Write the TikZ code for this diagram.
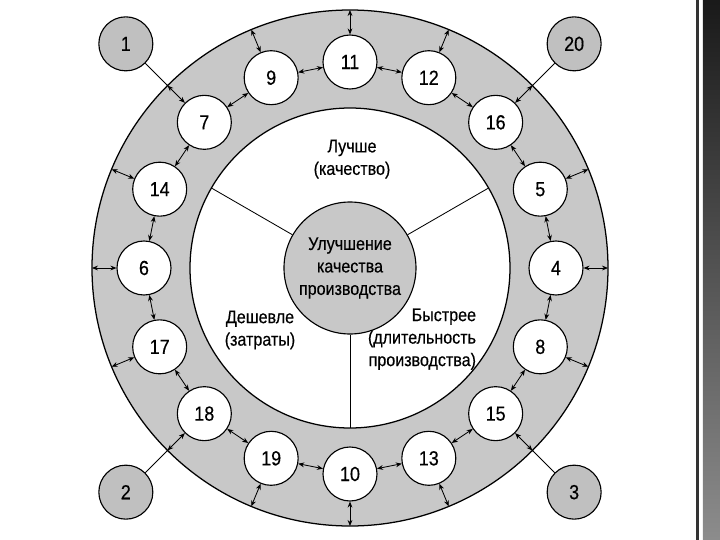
\documentclass[tikz,border=0pt]{standalone}
\usepackage{fontspec}
\setmainfont{Liberation Sans}[FakeStretch=0.88,FakeBold=0.4]
\usetikzlibrary{positioning,arrows.meta}
\usepackage{xcolor}
\definecolor{ringgray}{RGB}{200,200,200}
\definecolor{srcgray}{RGB}{192,192,192}

\begin{document}
\begin{tikzpicture}[>={Stealth[length=1.5mm,width=1.2mm]},
  stage/.style={draw,circle,fill=white,line width=0.8pt,minimum size=1.35cm,inner sep=0pt,font=\fontsize{14.5}{16}\selectfont},
  source/.style={stage,fill=srcgray},
  link/.style={<->,line width=0.6pt},
  note/.style={font=\fontsize{13}{16}\selectfont,align=center,inner sep=1pt}]
\useasboundingbox (-8.75,-6.8) rectangle (9.25,6.7);
% slide strip on the right
\shade[top color=black!90,bottom color=black!45] (8.825,-6.8) rectangle (9.25,6.7);
\fill[black!80] (8.65,-6.8) rectangle (8.72,6.7);
% ring and hub
\draw[line width=0.9pt,fill=ringgray] (0,0) circle (6.45);
\draw[line width=0.9pt,fill=white] (0,0) circle (4);
\node[draw,circle,fill=ringgray,line width=0.8pt,minimum size=3.3cm,note] (goal) at (0,0) {Улучшение\\качества\\производства};
\foreach \a/\s in {30/sa,150/sb,270/sc} {
  \coordinate (\s) at (\a:4);
  \draw[line width=0.6pt] (goal) -- (\s);
}
\node[note] (better) at (0.05,2.72) {Лучше\\(качество)};
\node[note] (cheaper) at (-2.25,-1.55) {Дешевле\\(затраты)};
\node[note,align=right] (faster) at (1.8,-1.78) {Быстрее\\(длительность\\производства)};
% stages around the ring
\foreach \n/\a in {4/0,5/22.5,16/45,12/67.5,11/90,9/112.5,7/135,14/157.5,6/180,17/202.5,18/225,19/247.5,10/270,13/292.5,15/315,8/337.5} {
  \node[stage] (c\n) at (\a:5.15) {\n};
  \coordinate (r\n) at (\a:6.45);
  \draw[link] (c\n) -- (r\n);
}
\foreach \p/\q in {4/5,5/16,16/12,12/11,11/9,9/7,7/14,14/6,6/17,17/18,18/19,19/10,10/13,13/15,15/8,8/4}
  \draw[link] (c\p) -- (c\q);
% outside inputs
\foreach \n/\m/\a in {1/7/135,20/16/45,2/18/225,3/15/315} {
  \node[source] (e\n) at (\a:7.925) {\n};
  \draw[line width=0.6pt] (e\n) -- (r\m);
}
\end{tikzpicture}
\end{document}
